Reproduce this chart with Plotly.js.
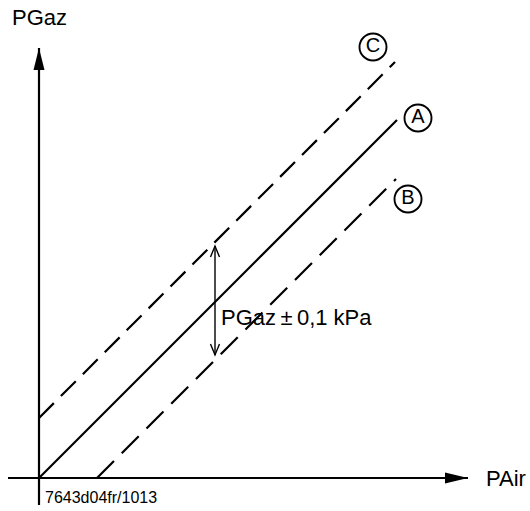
<!DOCTYPE html>
<html>
<head>
<meta charset="utf-8">
<script src="https://cdn.plot.ly/plotly-3.0.1.min.js"></script>
<style>html,body{margin:0;padding:0;background:#fff;}#chart{width:530px;height:511px;}</style>
</head>
<body>
<div id="chart"></div>
<script>
// Characteristic lines (arbitrary units, PAir -> PGaz)
const lineA_x = [0, 358];
const lineA_y = [0, 358];
const lineC_x = [0, 356];
const lineC_y = [60, 416];
const lineB_x = [58, 357];
const lineB_y = [0, 299];
const labels = ['A', 'B', 'C'];
// tolerance band arrow (PGaz ± 0,1 kPa)
const tolX = 176;
const tolTop = 232;
const tolBottom = 123;
const axisTitleX = 'PAir';
const axisTitleY = 'PGaz';
const tolText = 'PGaz\u2009\u00b1\u20090,1 kPa';
const refCode = '7643d04fr/1013';

const FONT = 'Liberation Sans, Arial, sans-serif';
const xMax = 429, yAxisTop = 430, yMax = 450;

function last(a){ return a[a.length-1]; }

const traces = [
  {x: lineA_x, y: lineA_y, mode:'lines', line:{color:'#000', width:2.2}, hoverinfo:'skip'},
  {x: lineC_x, y: lineC_y, mode:'lines', line:{color:'#000', width:2.2, dash:'21px,10px'}, hoverinfo:'skip'},
  {x: lineB_x, y: lineB_y, mode:'lines', line:{color:'#000', width:2.2, dash:'24px,11px'}, hoverinfo:'skip'},
  {
    x: [last(lineA_x)+21, last(lineB_x)+12, last(lineC_x)-22],
    y: [last(lineA_y)+2, last(lineB_y)-20, last(lineC_y)+15],
    mode:'markers+text', text: labels, textposition:'middle center', cliponaxis:false,
    textfont:{family:FONT, size:20, color:'#000'},
    marker:{symbol:'circle-open', size:27, color:'#000', line:{width:1.9, color:'#000'}},
    hoverinfo:'skip'
  }
];

const shapes = [
  // y axis line
  {type:'line', xref:'x', yref:'paper', x0:0, x1:0, y0:0, y1:1, line:{width:0}},
  {type:'line', xref:'x', yref:'y', x0:0, x1:0, y0:-27, y1:yAxisTop, line:{color:'#000', width:2.2}},
  // y axis arrow head
  {type:'path', xref:'x', yref:'y', xsizemode:'pixel', ysizemode:'pixel', xanchor:0, yanchor:yAxisTop,
   path:'M0,0 L-5.5,-22 L5.5,-22 Z', fillcolor:'#000', line:{width:0}},
  // x axis arrow head
  {type:'path', xref:'x', yref:'y', xsizemode:'pixel', ysizemode:'pixel', xanchor:xMax, yanchor:0,
   path:'M0,0 L-23,5.5 L-23,-5.5 Z', fillcolor:'#000', line:{width:0}},
  // tolerance double arrow
  {type:'line', xref:'x', yref:'y', x0:tolX, x1:tolX, y0:tolBottom, y1:tolTop, line:{color:'#000', width:1.4}},
  {type:'path', xref:'x', yref:'y', xsizemode:'pixel', ysizemode:'pixel', xanchor:tolX, yanchor:tolTop,
   path:'M-4.5,-11 L0,0 L4.5,-11', line:{color:'#000', width:1.4}},
  {type:'path', xref:'x', yref:'y', xsizemode:'pixel', ysizemode:'pixel', xanchor:tolX, yanchor:tolBottom,
   path:'M-4.5,11 L0,0 L4.5,11', line:{color:'#000', width:1.4}}
];

const annotations = [
  {xref:'x', yref:'y', x:0, y:yAxisTop, yshift:31, text:axisTitleY, showarrow:false,
   xanchor:'center', yanchor:'middle', font:{family:FONT, size:22, color:'#000'}},
  {xref:'x', yref:'y', x:xMax, y:0, xshift:16, text:axisTitleX, showarrow:false,
   xanchor:'left', yanchor:'middle', font:{family:FONT, size:22, color:'#000'}},
  {xref:'x', yref:'y', x:0, y:0, xshift:4, yshift:-19, text:refCode, showarrow:false,
   xanchor:'left', yanchor:'middle', font:{family:FONT, size:16, color:'#000'}},
  {xref:'x', yref:'y', x:tolX, y:(tolTop+tolBottom)/2 - 17, xshift:4, text:tolText, showarrow:false,
   xanchor:'left', yanchor:'middle', font:{family:FONT, size:22, color:'#000'}}
];

const axisCommon = {showgrid:false, showticklabels:false, ticks:'', showline:false, fixedrange:true};

const layout = {
  width:530, height:511,
  margin:{l:8, r:62, t:28, b:6, pad:0},
  paper_bgcolor:'#fff', plot_bgcolor:'#fff',
  showlegend:false,
  xaxis: Object.assign({range:[-31, xMax], zeroline:false}, axisCommon),
  yaxis: Object.assign({range:[-27, yMax], zeroline:true, zerolinecolor:'#000', zerolinewidth:2.2}, axisCommon),
  shapes: shapes,
  annotations: annotations,
  font:{family:FONT, color:'#000'}
};

Plotly.newPlot('chart', traces, layout, {staticPlot:true, displayModeBar:false});
</script>
</body>
</html>
